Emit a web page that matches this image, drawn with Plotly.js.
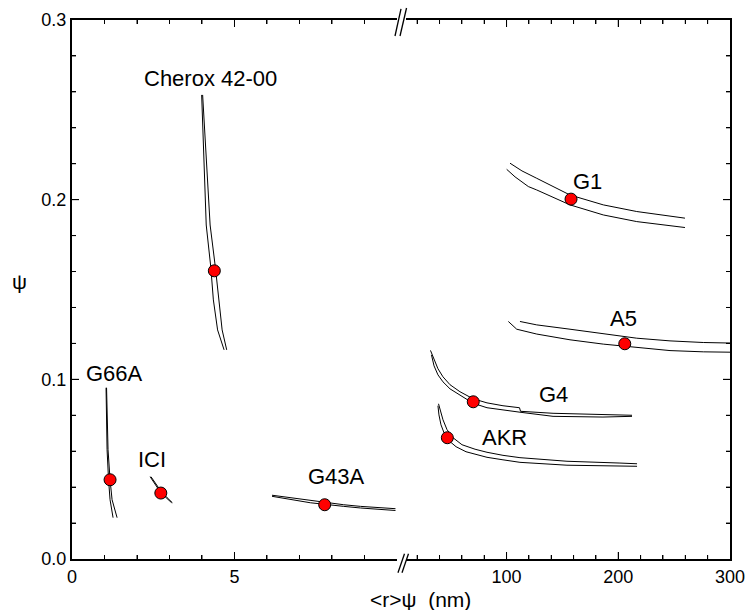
<!DOCTYPE html>
<html><head><meta charset="utf-8">
<script src="https://cdn.plot.ly/plotly-3.0.1.min.js"></script>
<style>html,body{margin:0;padding:0;background:#fff}#chart{width:749px;height:610px}</style>
</head><body><div id="chart"></div>
<script>
// ---------- left segment (0-10 nm) ----------
const g66aAX = [1.048, 1.057, 1.079, 1.125, 1.171, 1.263];
const g66aAY = [0.0953, 0.0775, 0.0608, 0.0441, 0.0330, 0.0230];
const g66aBX = [1.063, 1.079, 1.109, 1.171, 1.233, 1.387];
const g66aBY = [0.0953, 0.0775, 0.0608, 0.0441, 0.0330, 0.0230];

const iciAX = [2.404, 2.558, 2.712, 2.897, 3.066];
const iciAY = [0.0458, 0.0413, 0.0374, 0.0341, 0.0313];
const iciBX = [2.430, 2.590, 2.750, 2.930, 3.090];
const iciBY = [0.0458, 0.0413, 0.0374, 0.0341, 0.0313];

const cheroxAX = [3.99, 4.04, 4.07, 4.13, 4.27, 4.35, 4.48, 4.68];
const cheroxAY = [0.2583, 0.2332, 0.2093, 0.1859, 0.1626, 0.1442, 0.1275, 0.1164];
const cheroxBX = [4.02, 4.10, 4.16, 4.25, 4.41, 4.51, 4.62, 4.76];
const cheroxBY = [0.2583, 0.2332, 0.2093, 0.1859, 0.1626, 0.1442, 0.1275, 0.1164];

const g43aAX = [6.154, 6.82, 7.334, 8.36, 8.875, 9.954];
const g43aAY = [0.0355, 0.0339, 0.0323, 0.0302, 0.0293, 0.0280];
const g43aBX = [6.154, 6.82, 7.334, 8.36, 8.875, 9.954];
const g43aBY = [0.0349, 0.0330, 0.0313, 0.0293, 0.0284, 0.0270];

const dotLeftX = [1.171, 2.733, 4.38, 7.775];
const dotLeftY = [0.0441, 0.0367, 0.1604, 0.0302];

// ---------- right segment (10-300 nm) ----------
const g1AX = [103.1, 113.8, 127.0, 156.8, 186.6, 216.5, 259.7];
const g1AY = [0.2203, 0.2160, 0.2119, 0.2026, 0.1971, 0.1934, 0.1897];
const g1BX = [100.1, 107.6, 119.5, 127.0, 156.8, 186.6, 216.5, 259.7];
const g1BY = [0.2169, 0.2127, 0.2073, 0.2054, 0.1971, 0.1915, 0.1878, 0.1845];

const a5AX = [112.0, 127.0, 156.8, 186.6, 216.5, 246.3, 276.1, 300];
const a5AY = [0.1322, 0.1303, 0.1279, 0.1252, 0.1229, 0.1214, 0.1205, 0.1202];
const a5BX = [101.6, 109.1, 127.0, 156.8, 186.6, 216.5, 246.3, 276.1, 300];
const a5BY = [0.1322, 0.1279, 0.1252, 0.1220, 0.1196, 0.1177, 0.1160, 0.1153, 0.1151];

const g4AX = [31.9, 35.1, 38.6, 43.1, 49.4, 58.3, 70.0, 82.5, 96.8, 111.6, 112.5, 141.6, 172.0, 212.3];
const g4AY = [0.1161, 0.1109, 0.1059, 0.1014, 0.0970, 0.0931, 0.0892, 0.0869, 0.0853, 0.0842, 0.0822, 0.0811, 0.0805, 0.0800];
const g4BX = [32.8, 35.1, 38.6, 43.1, 49.4, 58.3, 70.0, 82.5, 96.8, 112.0, 141.6, 186.3, 212.3];
const g4BY = [0.1136, 0.1075, 0.1025, 0.0986, 0.0947, 0.0911, 0.0867, 0.0842, 0.0828, 0.0817, 0.0794, 0.0790, 0.0794];

const akrAX = [39.1, 40.4, 43.1, 46.7, 52.1, 60.1, 71.8, 82.5, 96.8, 112.0, 154.1, 201.5, 216.8];
const akrAY = [0.0864, 0.0831, 0.0775, 0.0720, 0.0675, 0.0636, 0.0611, 0.0594, 0.0577, 0.0564, 0.0544, 0.0534, 0.0530];
const akrBX = [38.6, 39.5, 41.3, 44.0, 48.5, 54.8, 63.7, 82.5, 96.8, 112.0, 154.1, 216.8];
const akrBY = [0.0853, 0.0802, 0.0747, 0.0703, 0.0658, 0.0625, 0.0597, 0.0566, 0.0552, 0.0538, 0.0522, 0.0516];

const dotRightX = [157.7, 205.8, 70.2, 47.0];
const dotRightY = [0.2003, 0.1198, 0.0875, 0.0675];

// ---------- labels and ticks ----------
const leftLabels = ['G66A', 'ICI', 'Cherox 42-00', 'G43A'];
const leftLabelX = [1.31, 2.456, 4.25, 8.15];
const leftLabelY = [0.1031, 0.0552, 0.2677, 0.0459];
const rightLabels = ['G1', 'A5', 'G4', 'AKR'];
const rightLabelX = [172.5, 204.7, 141.8, 98.2];
const rightLabelY = [0.2099, 0.1337, 0.0914, 0.0675];

const leftTicks = [0, 5];
const leftMinor = [1, 2, 3, 4, 6, 7, 8, 9];
const rightTicks = [100, 200, 300];
const rightMinor = [20, 40, 60, 80, 120, 140, 160, 180, 220, 240, 260, 280];
const yTicks = [0, 0.1, 0.2, 0.3];
const yMinor = [0.02, 0.04, 0.06, 0.08, 0.12, 0.14, 0.16, 0.18, 0.22, 0.24, 0.26, 0.28];
const yTickText = ['0.0', '0.1', '0.2', '0.3'];

const FONT = 'Liberation Sans, Arial, Helvetica, sans-serif';

function curve(x, y, side) {
  return {type: 'scatter', mode: 'lines', x: x, y: y,
          xaxis: side === 'L' ? 'x' : 'x2', yaxis: side === 'L' ? 'y' : 'y2',
          line: {color: '#000', width: 1}, hoverinfo: 'skip'};
}
function dots(x, y, side) {
  return {type: 'scatter', mode: 'markers', x: x, y: y,
          xaxis: side === 'L' ? 'x' : 'x2', yaxis: side === 'L' ? 'y' : 'y2',
          marker: {color: '#ff0000', size: 12, line: {color: '#000', width: 1}}};
}

const traces = [
  curve(g66aAX, g66aAY, 'L'), curve(g66aBX, g66aBY, 'L'),
  curve(iciAX, iciAY, 'L'), curve(iciBX, iciBY, 'L'),
  curve(cheroxAX, cheroxAY, 'L'), curve(cheroxBX, cheroxBY, 'L'),
  curve(g43aAX, g43aAY, 'L'), curve(g43aBX, g43aBY, 'L'),
  curve(g1AX, g1AY, 'R'), curve(g1BX, g1BY, 'R'),
  curve(a5AX, a5AY, 'R'), curve(a5BX, a5BY, 'R'),
  curve(g4AX, g4AY, 'R'), curve(g4BX, g4BY, 'R'),
  curve(akrAX, akrAY, 'R'), curve(akrBX, akrBY, 'R'),
  dots(dotLeftX, dotLeftY, 'L'),
  dots(dotRightX, dotRightY, 'R')
];

const annotations = [];
leftLabels.forEach((t, i) => annotations.push({text: t, x: leftLabelX[i], y: leftLabelY[i], xref: 'x', yref: 'y',
  showarrow: false, font: {family: FONT, size: 22, color: '#000'}}));
rightLabels.forEach((t, i) => annotations.push({text: t, x: rightLabelX[i], y: rightLabelY[i], xref: 'x2', yref: 'y2',
  showarrow: false, font: {family: FONT, size: 22, color: '#000'}}));
annotations.push({text: '&lt;r&gt;ψ\u00a0\u00a0(nm)', xref: 'paper', yref: 'paper', x: 0.529, y: -0.0755,
  xanchor: 'center', yanchor: 'middle', showarrow: false, font: {family: FONT, size: 21, color: '#000'}});
annotations.push({text: 'ψ', xref: 'paper', yref: 'paper', x: -0.0805, y: 0.514,
  xanchor: 'center', yanchor: 'middle', showarrow: false, font: {family: FONT, size: 21, color: '#000'}});

const axCommon = {ticks: 'inside', ticklen: 7, tickwidth: 1, tickcolor: '#000', showline: true, linewidth: 2,
  linecolor: '#000', showgrid: false, zeroline: false};
const minorCommon = {ticks: 'inside', ticklen: 4, tickwidth: 1, tickcolor: '#000', showgrid: false};

// axis break marks
const brk = {type: 'line', xref: 'paper', yref: 'paper', line: {color: '#000', width: 1.3}};
const shapes = [
  Object.assign({x0: 0.4954, y0: -0.0254, x1: 0.5053, y1: 0.0098}, brk),
  Object.assign({x0: 0.5015, y0: -0.0254, x1: 0.5114, y1: 0.0098}, brk),
  Object.assign({x0: 0.4909, y0: 0.9703, x1: 0.5000, y1: 1.0205}, brk),
  Object.assign({x0: 0.4985, y0: 0.9703, x1: 0.5084, y1: 1.0223}, brk)
];
// inward tick marks on the frame (same positions as the axis ticks)
const PW = 658, PH = 539;
function xTickMarks(vals, xref, len) {
  vals.forEach(v => {
    shapes.push({type: 'line', xref: xref, yref: 'paper', x0: v, x1: v, y0: 0, y1: len / PH, line: {color: '#000', width: 1}});
    shapes.push({type: 'line', xref: xref, yref: 'paper', x0: v, x1: v, y0: 1, y1: 1 - len / PH, line: {color: '#000', width: 1}});
  });
}
function yTickMarks(vals, yref, px, dir, len) {
  vals.forEach(v => shapes.push({type: 'line', xref: 'paper', yref: yref, x0: px, x1: px + dir * len / PW, y0: v, y1: v,
    line: {color: '#000', width: 1}}));
}
xTickMarks(leftTicks.filter(v => v > 0), 'x', 7);
xTickMarks(leftMinor, 'x', 4);
xTickMarks(rightTicks.filter(v => v < 300), 'x2', 7);
xTickMarks(rightMinor, 'x2', 4);
yTickMarks(yTicks.filter(v => v > 0 && v < 0.3), 'y', 0, 1, 7);
yTickMarks(yMinor, 'y', 0, 1, 4);
yTickMarks(yTicks.filter(v => v > 0 && v < 0.3), 'y2', 1, -1, 7);
yTickMarks(yMinor, 'y2', 1, -1, 4);

const layout = {
  width: 749, height: 610,
  margin: {l: 72, r: 19, t: 20, b: 51, pad: 0},
  paper_bgcolor: '#fff', plot_bgcolor: '#fff',
  showlegend: false,
  font: {family: FONT, size: 18, color: '#000'},
  xaxis: Object.assign({}, axCommon, {domain: [0, 0.4939], range: [0, 10], tickvals: leftTicks,
    anchor: 'y', mirror: 'ticks', minor: Object.assign({tickvals: leftMinor}, minorCommon)}),
  xaxis2: Object.assign({}, axCommon, {domain: [0.5076, 1], range: [10, 300], tickvals: rightTicks,
    anchor: 'y2', mirror: 'ticks', minor: Object.assign({tickvals: rightMinor}, minorCommon)}),
  yaxis: Object.assign({}, axCommon, {domain: [0, 1], range: [0, 0.3], tickvals: yTicks, ticktext: yTickText,
    anchor: 'x', side: 'left', mirror: false, minor: Object.assign({tickvals: yMinor}, minorCommon)}),
  yaxis2: Object.assign({}, axCommon, {domain: [0, 1], range: [0, 0.3], tickvals: yTicks,
    anchor: 'x2', side: 'right', mirror: false, showticklabels: false,
    minor: Object.assign({tickvals: yMinor}, minorCommon)}),
  annotations: annotations,
  shapes: shapes
};

Plotly.newPlot('chart', traces, layout, {displayModeBar: false});
</script>
</body></html>
